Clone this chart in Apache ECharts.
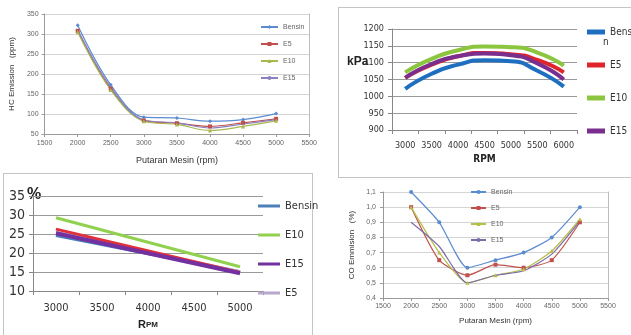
<!DOCTYPE html>
<html>
<head>
<meta charset="utf-8">
<script src="https://cdn.jsdelivr.net/npm/echarts@6/dist/echarts.min.js"></script>
<style>
  html, body { margin: 0; padding: 0; background: #fff; width: 631px; height: 335px; overflow: hidden; position: relative; }
  .panel { position: absolute; }
  .frame { position: absolute; border: 1px solid #c4c4c4; box-sizing: border-box; }
</style>
</head>
<body>
<div class="frame" style="left:338px;top:7px;width:300px;height:171px;"></div>
<div class="frame" style="left:3px;top:173px;width:310px;height:175px;"></div>
<div id="hc" class="panel" style="left:0;top:0;width:320px;height:170px;"></div>
<div id="kpa" class="panel" style="left:320px;top:0;width:311px;height:176px;"></div>
<div id="eff" class="panel" style="left:0;top:165px;width:320px;height:170px;"></div>
<div id="co" class="panel" style="left:320px;top:178px;width:311px;height:157px;"></div>
<script>
// HC emission (ppm) against engine speed
const hcRpm    = [2000, 2500, 3000, 3500, 4000, 4500, 5000];
const hcBensin = [322, 173, 92, 90, 82, 86, 101];
const hcE5     = [308, 163, 84, 77, 69, 78, 88];
const hcE10    = [305, 160, 82, 74, 59, 69, 83];
const hcE15    = [311, 167, 85, 78, 65, 75, 86];

// Cylinder pressure (kPa) against RPM
const kpaRpm    = ['3000', '3500', '4000', '4500', '5000', '5500', '6000'];
const kpaBensin = [1022, 1067, 1094, 1107, 1104, 1076, 1029];
const kpaE5     = [1055, 1094, 1119, 1129, 1125, 1108, 1071];
const kpaE10    = [1071, 1111, 1137, 1148, 1146, 1130, 1091];
const kpaE15    = [1055, 1096, 1119, 1127, 1122, 1098, 1050];

// Efficiency (%) against RPM, measured at the two ends of the range
const effRpm    = ['3000', '3500', '4000', '4500', '5000'];
const effBensin = [24.6, null, null, null, 15.1];
const effE10    = [29.3, null, null, null, 16.4];
const effE15    = [25.2, null, null, null, 14.7];
const effE5     = [25.6, null, null, null, 15.2];
const effRed    = [26.3, null, null, null, 14.9];

// CO emission (%) against engine speed
const coRpm    = [2000, 2500, 3000, 3500, 4000, 4500, 5000];
const coBensin = [1.10, 0.90, 0.60, 0.65, 0.70, 0.80, 1.00];
const coE5     = [1.00, 0.65, 0.55, 0.62, 0.60, 0.65, 0.90];
const coE10    = [1.00, 0.70, 0.50, 0.55, 0.59, 0.71, 0.92];
const coE15    = [0.90, 0.74, 0.50, 0.55, 0.58, 0.69, 0.91];

const pairs = (xs, ys) => xs.map((x, i) => [x, ys[i]]);
const narrow = "'Liberation Sans Narrow', 'DejaVu Sans Condensed', 'Liberation Sans', sans-serif";
const plain = "'Liberation Sans', Arial, sans-serif";
const raw = v => String(v);

function frameAxis() {
  return {
    type: 'value', position: 'right', min: 0, max: 1,
    axisLine: { show: true, lineStyle: { color: '#bdbdbd' } },
    axisTick: { show: false }, axisLabel: { show: false }, splitLine: { show: false }
  };
}

function rpmLine(name, xs, ys, color, symbol, smooth) {
  return {
    name, type: 'line', smooth, data: pairs(xs, ys),
    symbol, symbolSize: symbol === 'none' ? 0 : 4,
    itemStyle: { color }, lineStyle: { color, width: 1.2 }
  };
}

/* ---------- HC emission ---------- */
echarts.init(document.getElementById('hc')).setOption({
  animation: false,
  grid: { left: 42, right: 10, top: 14, bottom: 34 },
  xAxis: {
    type: 'value', min: 1500, max: 5500, interval: 500,
    axisLine: { lineStyle: { color: '#9a9a9a' } },
    axisTick: { show: true, length: 3, lineStyle: { color: '#9a9a9a' } },
    axisLabel: { fontSize: 7, color: '#666', margin: 6, fontFamily: plain, formatter: raw },
    splitLine: { show: false },
    name: 'Putaran Mesin (rpm)', nameLocation: 'middle', nameGap: 22,
    nameTextStyle: { fontSize: 9, color: '#333', fontFamily: plain }
  },
  yAxis: [{
    type: 'value', min: 50, max: 350, interval: 50,
    axisLine: { show: true, lineStyle: { color: '#9a9a9a' } },
    axisTick: { show: true, length: 3, lineStyle: { color: '#9a9a9a' } },
    axisLabel: { fontSize: 7, color: '#666', margin: 6, fontFamily: plain, formatter: raw },
    splitLine: { lineStyle: { color: '#d4d4d4' } },
    name: 'HC Emission   (ppm)', nameLocation: 'middle', nameGap: 27,
    nameTextStyle: { fontSize: 8, color: '#333', fontFamily: plain }
  }, frameAxis()],
  legend: {
    orient: 'vertical', left: 255, top: 18, itemWidth: 17, itemHeight: 5, itemGap: 9,
    textStyle: { fontSize: 7, color: '#666', fontFamily: plain, lineHeight: 8 },
    data: ['Bensin', 'E5', 'E10', 'E15']
  },
  series: [
    rpmLine('Bensin', hcRpm, hcBensin, '#5b8bd0', 'diamond', 0.35),
    rpmLine('E5', hcRpm, hcE5, '#c0504d', 'rect', 0.35),
    rpmLine('E10', hcRpm, hcE10, '#a7b94f', 'triangle', 0.35),
    rpmLine('E15', hcRpm, hcE15, '#8a80c0', 'none', 0.35)
  ]
});

/* ---------- Pressure (kPa) ---------- */
function thick(name, ys, color) {
  return { name, type: 'line', smooth: 0.6, showSymbol: false, data: ys,
           itemStyle: { color }, lineStyle: { color, width: 4 } };
}
echarts.init(document.getElementById('kpa')).setOption({
  animation: false,
  grid: { left: 72, right: 54, top: 29, bottom: 46 },
  xAxis: {
    type: 'category', data: kpaRpm, boundaryGap: true,
    axisLine: { lineStyle: { color: '#888' } },
    axisTick: { show: true, length: 4, lineStyle: { color: '#888' } },
    axisLabel: { fontSize: 9, color: '#333', margin: 11, interval: 0, fontFamily: narrow },
    name: 'RPM', nameLocation: 'middle', nameGap: 24,
    nameTextStyle: { fontSize: 10, fontWeight: 'bold', color: '#222', fontFamily: narrow }
  },
  yAxis: {
    type: 'value', min: 900, max: 1200, interval: 50,
    axisLine: { show: true, lineStyle: { color: '#888' } },
    axisTick: { show: true, length: 4, lineStyle: { color: '#888' } },
    axisLabel: { fontSize: 9, color: '#333', margin: 8, fontFamily: narrow, formatter: raw },
    splitLine: { lineStyle: { color: '#9a9a9a' } }
  },
  legend: {
    orient: 'vertical', left: 262, top: 21, itemWidth: 18, itemHeight: 5, itemGap: 21, icon: 'rect',
    textStyle: { fontSize: 10, color: '#333', fontFamily: narrow, lineHeight: 12 },
    formatter: n => n === 'Bensin' ? 'Bensi' : n,
    data: ['Bensin', 'E5', 'E10', 'E15']
  },
  graphic: [
    { type: 'text', left: 27, top: 56, style: { text: 'kPa', fontSize: 12, fontWeight: 'bold', fill: '#222', fontFamily: plain } },
    { type: 'text', left: 283, top: 37, style: { text: 'n', fontSize: 10, fill: '#333', fontFamily: narrow } }
  ],
  series: [
    thick('Bensin', kpaBensin, '#1f6fc0'),
    thick('E10', kpaE10, '#8cc63f'),
    thick('E5', kpaE5, '#e0242b'),
    thick('E15', kpaE15, '#7a2e8e')
  ]
});

/* ---------- Efficiency (%) ---------- */
function straight(name, ys, color, width) {
  return { name, type: 'line', connectNulls: true, showSymbol: false, data: ys,
           itemStyle: { color }, lineStyle: { color, width } };
}
echarts.init(document.getElementById('eff')).setOption({
  animation: false,
  grid: { left: 33, right: 57, top: 31, bottom: 41 },
  xAxis: {
    type: 'category', data: effRpm, boundaryGap: true,
    axisLine: { lineStyle: { color: '#888' } },
    axisTick: { show: true, length: 4, lineStyle: { color: '#888' } },
    axisLabel: { fontSize: 11, color: '#333', margin: 12, fontFamily: narrow },
    name: '{r|R}{pm|PM}', nameLocation: 'middle', nameGap: 27,
    nameTextStyle: { rich: {
      r: { fontSize: 11, fontWeight: 'bold', color: '#222', fontFamily: plain },
      pm: { fontSize: 8, fontWeight: 'bold', color: '#222', fontFamily: plain }
    } }
  },
  yAxis: {
    type: 'value', min: 10, max: 35, interval: 5,
    axisLine: { show: true, lineStyle: { color: '#888' } },
    axisTick: { show: true, length: 4, lineStyle: { color: '#888' } },
    axisLabel: { fontSize: 14, color: '#333', margin: 8, fontFamily: narrow },
    splitLine: { lineStyle: { color: '#9a9a9a' } }
  },
  legend: {
    orient: 'vertical', left: 253, top: 30, itemWidth: 22, itemHeight: 3, itemGap: 17, icon: 'rect',
    textStyle: { fontSize: 11, color: '#333', fontFamily: narrow, lineHeight: 12 },
    data: ['Bensin', 'E10', 'E15', 'E5']
  },
  graphic: [
    { type: 'text', left: 27, top: 22, style: { text: '%', fontSize: 16, fontWeight: 'bold', fill: '#222', fontFamily: plain } }
  ],
  series: [
    straight('Bensin', effBensin, '#4a7fb8', 3),
    straight('E5', effE5, '#b8a6cc', 2),
    straight('E5 (2)', effRed, '#e0303a', 3),
    straight('E15', effE15, '#7230a0', 4),
    straight('E10', effE10, '#92d050', 3)
  ]
});

/* ---------- CO emission ---------- */
echarts.init(document.getElementById('co')).setOption({
  animation: false,
  grid: { left: 63, right: 23, top: 14, bottom: 37 },
  xAxis: {
    type: 'value', min: 1500, max: 5500, interval: 500,
    axisLine: { lineStyle: { color: '#9a9a9a' } },
    axisTick: { show: true, length: 3, lineStyle: { color: '#9a9a9a' } },
    axisLabel: { fontSize: 7, color: '#666', margin: 5, fontFamily: plain, formatter: raw },
    splitLine: { show: false },
    name: 'Putaran Mesin (rpm)', nameLocation: 'middle', nameGap: 19,
    nameTextStyle: { fontSize: 8, color: '#333', fontFamily: plain }
  },
  yAxis: [{
    type: 'value', min: 0.4, max: 1.1, interval: 0.1,
    axisLine: { show: true, lineStyle: { color: '#9a9a9a' } },
    axisTick: { show: true, length: 3, lineStyle: { color: '#9a9a9a' } },
    axisLabel: { fontSize: 7, color: '#666', margin: 7, fontFamily: plain,
                 formatter: v => v.toFixed(1).replace('.', ',') },
    splitLine: { lineStyle: { color: '#d4d4d4' } },
    name: 'CO Emmision   (%)', nameLocation: 'middle', nameGap: 24,
    nameTextStyle: { fontSize: 8, color: '#333', fontFamily: plain }
  }, frameAxis()],
  legend: {
    orient: 'vertical', left: 145, top: 5, itemWidth: 15, itemHeight: 5, itemGap: 8,
    textStyle: { fontSize: 7, color: '#666', fontFamily: plain, lineHeight: 8 },
    data: ['Bensin', 'E5', 'E10', 'E15']
  },
  graphic: [
    { type: 'rect', left: 140, top: 0, z: 100, shape: { width: 60, height: 8 }, style: { fill: '#fff' } }
  ],
  series: [
    rpmLine('Bensin', coRpm, coBensin, '#5b8bd0', 'circle', 0.2),
    rpmLine('E5', coRpm, coE5, '#c0504d', 'rect', 0.2),
    rpmLine('E10', coRpm, coE10, '#b5bf4a', 'triangle', 0.2),
    rpmLine('E15', coRpm, coE15, '#7d6aa8', 'none', 0.2)
  ]
});
</script>
</body>
</html>
